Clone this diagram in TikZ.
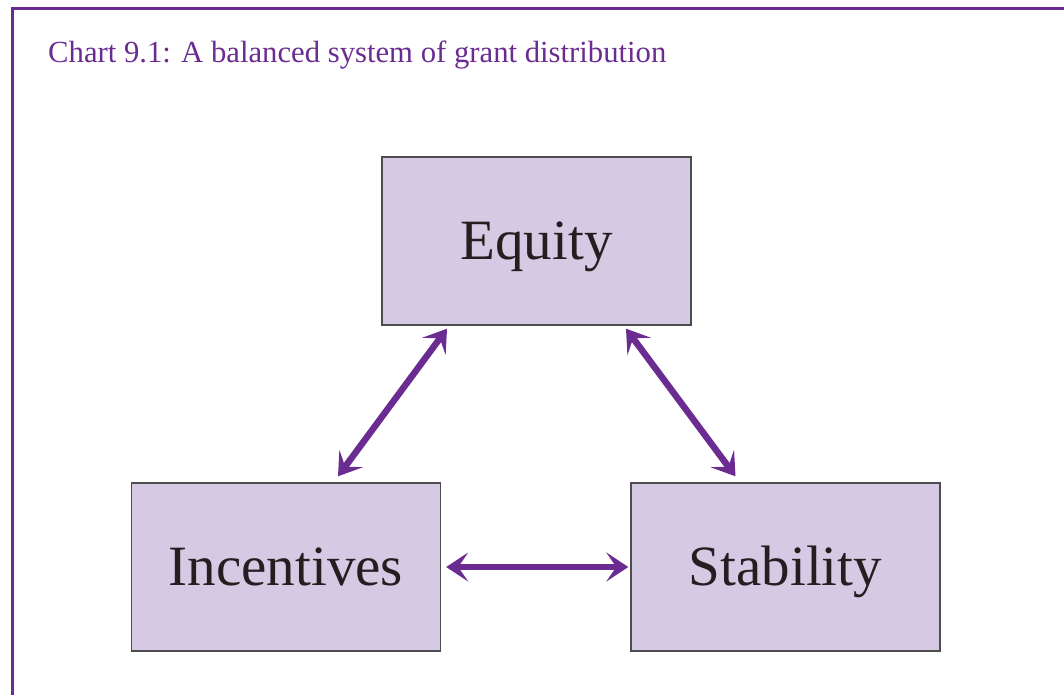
\documentclass[tikz,border=0pt]{standalone}
\usepackage{fontspec}
\setmainfont{Liberation Serif}
\usetikzlibrary{arrows.meta}
\definecolor{frameP}{HTML}{6B2C91}
\definecolor{boxfill}{HTML}{D6C9E3}
\definecolor{boxline}{HTML}{4D4D4F}
\definecolor{txt}{HTML}{231F20}
\tikzset{
  box/.style={draw=boxline, line width=1.4pt, fill=boxfill, minimum width=309pt, minimum height=168pt, inner sep=0pt, text=txt, font=\fontsize{57}{60}\selectfont},
  link/.style={draw=frameP, line width=6.5pt, {Stealth[length=22pt,width=29pt,inset=10pt]}-{Stealth[length=22pt,width=29pt,inset=10pt]}},
}
\begin{document}
\begin{tikzpicture}[x=1pt,y=-1pt]
\useasboundingbox (0,0) rectangle (1064,695);
\draw[frameP, line width=3pt] (12,700) -- (12,9) -- (1070,9);
\node[anchor=base west, text=frameP, font=\fontsize{30.7}{34}\selectfont, inner sep=0pt] (title) at (48,63) {Chart 9.1: A balanced system of grant distribution};
\node[box, text depth=0pt, text height=37pt] (eq) at (536.5,241) {Equity};
\node[box, text depth=0pt, text height=37pt] (inc) at (286,567) {Incentives};
\node[box, text depth=0pt, text height=37pt] (stab) at (785.5,567) {Stability};
\draw[link] ([xshift=-89.5pt,yshift=-3pt]eq.south) -- ([xshift=52pt,yshift=6pt]inc.north);
\draw[link] ([xshift=89.5pt,yshift=-3pt]eq.south) -- ([xshift=-50pt,yshift=6pt]stab.north);
\draw[link] ([xshift=5pt]inc.east) -- ([xshift=-2pt]stab.west);
\end{tikzpicture}
\end{document}
